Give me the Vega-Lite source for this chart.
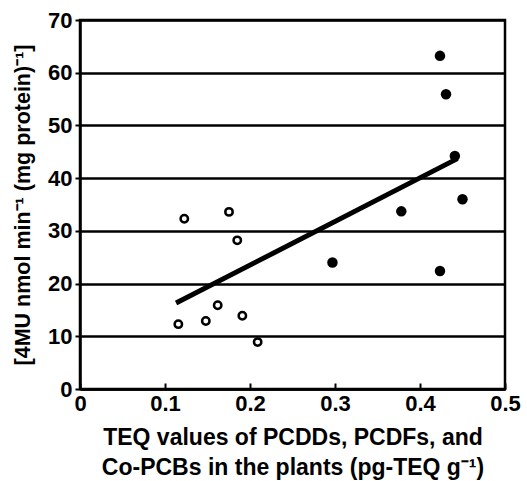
{
  "$schema": "https://vega.github.io/schema/vega-lite/v6.json",
  "width": 425,
  "height": 369,
  "autosize": {"type": "none"},
  "padding": {"left": 80, "top": 20, "right": 22, "bottom": 92},
  "background": "white",
  "config": {
    "view": {"stroke": "black", "strokeWidth": 2.5},
    "font": "Liberation Sans",
    "axis": {
      "labelFont": "Liberation Sans",
      "labelFontWeight": "bold",
      "labelFontSize": 22,
      "labelColor": "black",
      "titleFont": "Liberation Sans",
      "titleFontWeight": "bold",
      "titleColor": "black",
      "domainColor": "black",
      "domainWidth": 2.5,
      "tickColor": "black",
      "tickWidth": 2
    }
  },
  "datasets": {
    "pts": [
      {"teq": 0.1227, "activity": 32.3, "group": "open"},
      {"teq": 0.1753, "activity": 33.6, "group": "open"},
      {"teq": 0.185, "activity": 28.2, "group": "open"},
      {"teq": 0.162, "activity": 15.9, "group": "open"},
      {"teq": 0.1157, "activity": 12.3, "group": "open"},
      {"teq": 0.148, "activity": 12.9, "group": "open"},
      {"teq": 0.191, "activity": 13.9, "group": "open"},
      {"teq": 0.209, "activity": 8.9, "group": "open"},
      {"teq": 0.4235, "activity": 63.2, "group": "filled"},
      {"teq": 0.4306, "activity": 55.9, "group": "filled"},
      {"teq": 0.441, "activity": 44.2, "group": "filled"},
      {"teq": 0.45, "activity": 36.0, "group": "filled"},
      {"teq": 0.378, "activity": 33.7, "group": "filled"},
      {"teq": 0.297, "activity": 24.0, "group": "filled"},
      {"teq": 0.4235, "activity": 22.4, "group": "filled"}
    ],
    "fit": [
      {"teq": 0.113, "activity": 16.3},
      {"teq": 0.444, "activity": 43.7}
    ]
  },
  "encoding": {
    "x": {
      "field": "teq", "type": "quantitative",
      "scale": {"domain": [0, 0.5], "nice": false, "zero": true},
      "axis": {
        "values": [0, 0.1, 0.2, 0.3, 0.4, 0.5],
        "format": ".1~f",
        "grid": false,
        "tickSize": -6,
        "labelPadding": 10,
        "labelFlush": false,
        "title": ["TEQ values of PCDDs, PCDFs, and", "Co-PCBs in the plants (pg-TEQ g⁻¹)"],
        "titleFontSize": 23,
        "titleLineHeight": 30,
        "titlePadding": 12
      }
    },
    "y": {
      "field": "activity", "type": "quantitative",
      "scale": {"domain": [0, 70], "nice": false},
      "axis": {
        "values": [0, 10, 20, 30, 40, 50, 60, 70],
        "grid": true,
        "gridColor": "black",
        "gridWidth": 2.5,
        "gridOpacity": 1,
        "tickSize": 5,
        "labelPadding": 3,
        "title": "[4MU nmol min⁻¹ (mg  protein)⁻¹]",
        "titleFontSize": 21.5,
        "titlePadding": 13
      }
    }
  },
  "layer": [
    {
      "data": {"name": "fit"},
      "mark": {"type": "line", "color": "black", "strokeWidth": 5, "strokeCap": "butt"}
    },
    {
      "data": {"name": "pts"},
      "transform": [{"filter": "datum.group === 'open'"}],
      "mark": {"type": "point", "shape": "circle", "filled": false, "color": "black", "strokeWidth": 2.5, "size": 55, "opacity": 1}
    },
    {
      "data": {"name": "pts"},
      "transform": [{"filter": "datum.group === 'filled'"}],
      "mark": {"type": "point", "shape": "circle", "filled": true, "color": "black", "size": 110, "opacity": 1}
    }
  ]
}
